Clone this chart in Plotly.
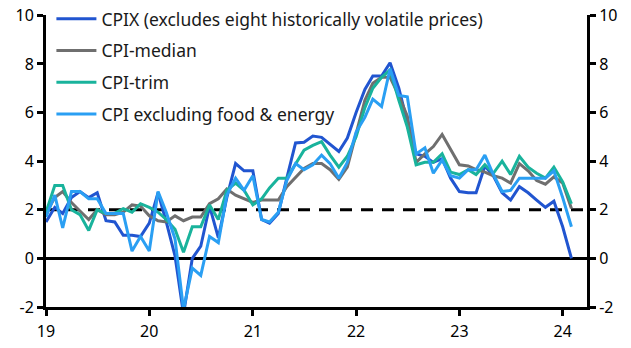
import pandas as pd
import plotly.graph_objects as go

dates = pd.date_range("2019-01-01", periods=62, freq="MS")

cpix = [1.5, 2.1, 1.85, 2.5, 2.75, 2.5, 2.7, 1.55, 1.5, 0.95, 0.95, 0.9,
        1.45, 2.7, 1.5, 0.1, -2.3, 0.0, 0.5, 2.15, 0.85, 2.5, 3.9, 3.6,
        3.6, 1.6, 1.45, 1.85, 3.3, 4.75, 4.78, 5.03, 4.98, 4.7, 4.4, 4.95,
        6.0, 6.95, 7.5, 7.5, 8.05, 7.0, 5.6, 4.3, 4.2, 3.95, 4.1, 3.3,
        2.75, 2.7, 2.7, 3.8, 3.4, 2.7, 2.4, 2.95, 2.7, 2.4, 2.1, 2.35,
        1.3, 0.0]

median = [1.85, 2.5, 2.75, 2.3, 1.95, 1.6, 2.0, 1.8, 1.8, 1.9, 2.2, 2.15,
          1.75, 1.55, 1.5, 1.75, 1.55, 1.7, 1.7, 2.25, 2.45, 2.85, 2.6, 2.45,
          2.3, 2.4, 2.4, 2.4, 2.95, 3.35, 3.7, 3.9, 3.9, 3.65, 3.25, 3.75,
          5.1, 6.5, 7.2, 7.45, 7.45, 6.7, 5.85, 3.95, 4.3, 4.6, 5.1, 4.5,
          3.85, 3.8, 3.65, 3.55, 3.4, 3.3, 3.1, 3.9, 3.6, 3.2, 3.05, 3.35,
          3.1, 2.05]

trim = [1.9, 3.0, 3.0, 2.0, 1.8, 1.15, 2.0, 1.85, 1.85, 2.05, 1.9, 2.25,
        2.1, 1.9, 1.6, 1.2, 0.25, 1.3, 1.3, 2.2, 1.6, 2.8, 3.1, 2.8,
        2.2, 2.45, 2.9, 3.3, 3.3, 3.9, 4.45, 4.65, 4.8, 4.25, 3.75, 4.2,
        5.0, 6.2, 7.0, 7.45, 7.75, 6.5, 5.4, 3.85, 3.95, 3.95, 4.3, 3.55,
        3.45, 3.65, 3.45, 3.85, 3.5, 4.0, 3.45, 4.2, 3.75, 3.5, 3.3, 3.75,
        3.15, 2.25]

exfe = [1.7, 2.6, 1.25, 2.75, 2.75, 2.45, 2.45, 1.85, 1.85, 1.85, 0.3, 0.9,
        0.3, 2.75, 1.9, 0.8, -2.1, -0.4, -0.7, 0.9, 0.65, 2.6, 3.3, 2.8,
        3.4, 1.6, 1.5, 1.9, 3.2, 3.9, 3.65, 3.85, 4.25, 3.9, 3.3, 3.95,
        5.2, 5.8, 6.55, 6.25, 7.8, 6.7, 6.65, 4.3, 4.55, 3.5, 4.05, 3.4,
        3.3, 3.65, 3.65, 4.25, 3.45, 2.75, 2.8, 3.3, 3.3, 3.3, 3.3, 3.6,
        2.5, 1.3]

series_names = ["CPIX (excludes eight historically volatile prices)",
                "CPI-median", "CPI-trim", "CPI excluding food & energy"]
series_values = [cpix, median, trim, exfe]
colors = ["#2155d0", "#6f6f6f", "#19b39c", "#2a9ff3"]
series_axes = ["y", "y", "y", "y2"]

year_ticks = ["2019-01-01", "2020-01-01", "2021-01-01", "2022-01-01",
              "2023-01-01", "2024-01-01"]
year_labels = ["19", "20", "21", "22", "23", "24"]
y_ticks = [-2, 0, 2, 4, 6, 8, 10]
y_labels = ["-2", "0", "2", "4", "6", "8", "10"]

FONT = "Noto Sans"

fig = go.Figure()
for name, vals, col, ax in zip(series_names, series_values, colors,
                               series_axes):
    fig.add_trace(go.Scatter(x=dates, y=vals, name=name, mode="lines",
                             line=dict(color=col, width=3),
                             legendgroup=name, yaxis=ax))

axis_common = dict(showgrid=False, showline=True, linecolor="black",
                   linewidth=3, ticks="outside", ticklen=6, tickwidth=3,
                   tickcolor="black", tickfont=dict(family=FONT, size=16,
                                                    color="black"))

top_m, bot_m = 4, 41
plot_h = 348 - top_m - bot_m
dom_top = (306.7 - 15.0) / plot_h

fig.update_layout(
    width=631, height=348,
    margin=dict(l=46, r=44, t=top_m, b=bot_m, pad=0, autoexpand=False),
    paper_bgcolor="white", plot_bgcolor="white",
    font=dict(family=FONT, size=16, color="#1a1a1a"),
    showlegend=True,
    legend=dict(x=0.01, y=1.01, xanchor="left", yanchor="top",
                bgcolor="rgba(0,0,0,0)", traceorder="grouped",
                tracegroupgap=6, itemwidth=40,
                font=dict(family=FONT, size=17.5, color="#1a1a1a")),
    xaxis=dict(type="date", range=["2019-01-01", "2024-03-27"],
               tickvals=year_ticks, ticktext=year_labels,
               ticklabelstandoff=2, **axis_common),
    yaxis=dict(range=[-2, 10], tickvals=y_ticks, ticktext=y_labels,
               zeroline=False, domain=[0, dom_top], **axis_common),
    yaxis2=dict(range=[-2, 10], tickvals=y_ticks, ticktext=y_labels,
                overlaying="y", side="right", zeroline=False,
                **axis_common),
)

fig.add_shape(type="line", xref="paper", x0=0, x1=1, yref="y", y0=0, y1=0,
              line=dict(color="black", width=3), layer="below")
fig.add_shape(type="line", xref="paper", x0=0, x1=1, yref="y", y0=2, y1=2,
              line=dict(color="black", width=3, dash="12px,9px"),
              layer="below")

fig.write_html("out.html")
